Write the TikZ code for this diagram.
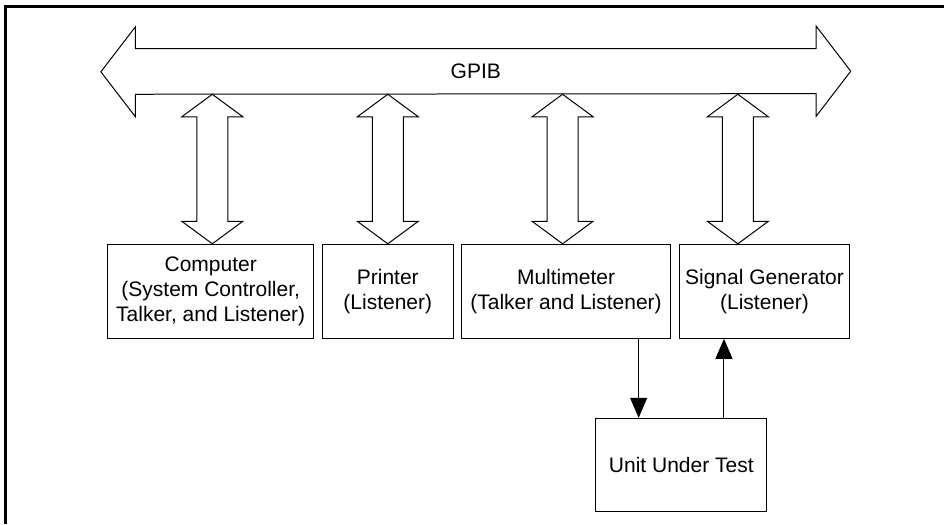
\documentclass[tikz,border=0pt]{standalone}
\usepackage{fontspec}
\setmainfont{Liberation Sans}
\usepackage{xcolor}
\usepackage{tikz}
\usetikzlibrary{arrows.meta, positioning, calc}

\begin{document}
\begin{tikzpicture}[
    x=0.75pt, y=-0.75pt,
    font=\fontsize{15.75pt}{18.75pt}\selectfont,
    box/.style={rectangle, draw, line width=0.75pt, align=center, minimum height=70.5pt, inner sep=2pt},
    arrow/.style={-{Triangle[length=15pt, width=12.75pt]}, line width=0.75pt},
    fat/.style={draw, line width=0.75pt, to path={let \p1=(\tikztostart), \p2=(\tikztotarget) in
        (\x1,\y1) -- (\x1+22.9pt,\y1-16.9pt) -- (\x1+11.6pt,\y1-16.9pt) -- (\x1+11.6pt,\y2+16.9pt)
        -- (\x1+22.9pt,\y2+16.9pt) -- (\x2,\y2) -- (\x1-22.9pt,\y2+16.9pt) -- (\x1-11.6pt,\y2+16.9pt)
        -- (\x1-11.6pt,\y1-16.9pt) -- (\x1-22.9pt,\y1-16.9pt) -- cycle}}
]
\useasboundingbox (0,0) rectangle (944,524);

% Frame
\draw[line width=2.25pt] (944,6.5) -- (5.5,6.5) -- (5.5,524);

% Bus
\node[minimum width=510.2pt, minimum height=33.75pt, inner sep=0pt] (gpib) at (475.8,71.5) {GPIB};
\draw[line width=0.75pt] (gpib.north west) -- (gpib.north east) -- ++(0,16.9pt) -- ++(25.9pt,-33.75pt)
    -- ++(-25.9pt,-33.75pt) -- ++(0,16.9pt) -- (gpib.south west) -- ++(0,-16.9pt)
    -- ++(-25.9pt,33.75pt) -- ++(25.9pt,33.75pt) -- cycle;

% Row 1: Devices
\node[box, minimum width=154.5pt] (comp) at (210.7,291.3) {Computer\\(System Controller,\\Talker, and Listener)};
\node[box, minimum width=98.25pt, right=5.7pt of comp] (printer) {Printer\\(Listener)};
\node[box, minimum width=156.2pt, right=5.7pt of printer] (mm) {Multimeter\\(Talker and Listener)};
\node[box, minimum width=128pt, right=6pt of mm] (sig) {Signal Generator\\(Listener)};

% Row 2: Unit under test
\node[box, minimum width=128pt, minimum height=70pt] (uut) at (681.3,465) {Unit Under Test};

% Bus connections
\draw[fat] ([xshift=1.2pt]gpib.south -| comp.north) to ([xshift=1.2pt]comp.north);
\draw[fat] (gpib.south -| printer.north) to (printer.north);
\draw[fat] ([xshift=-2.6pt]gpib.south -| mm.north) to ([xshift=-2.6pt]mm.north);
\draw[fat] ([xshift=-20pt]gpib.south -| sig.north) to ([xshift=-20pt]sig.north);

% Arrows
\draw[arrow] ([xshift=-32pt]uut.north |- mm.south) -- ([xshift=-32pt]uut.north);
\draw[arrow] ([xshift=32pt]uut.north) -- ([xshift=32pt]uut.north |- sig.south);

\end{tikzpicture}
\end{document}
